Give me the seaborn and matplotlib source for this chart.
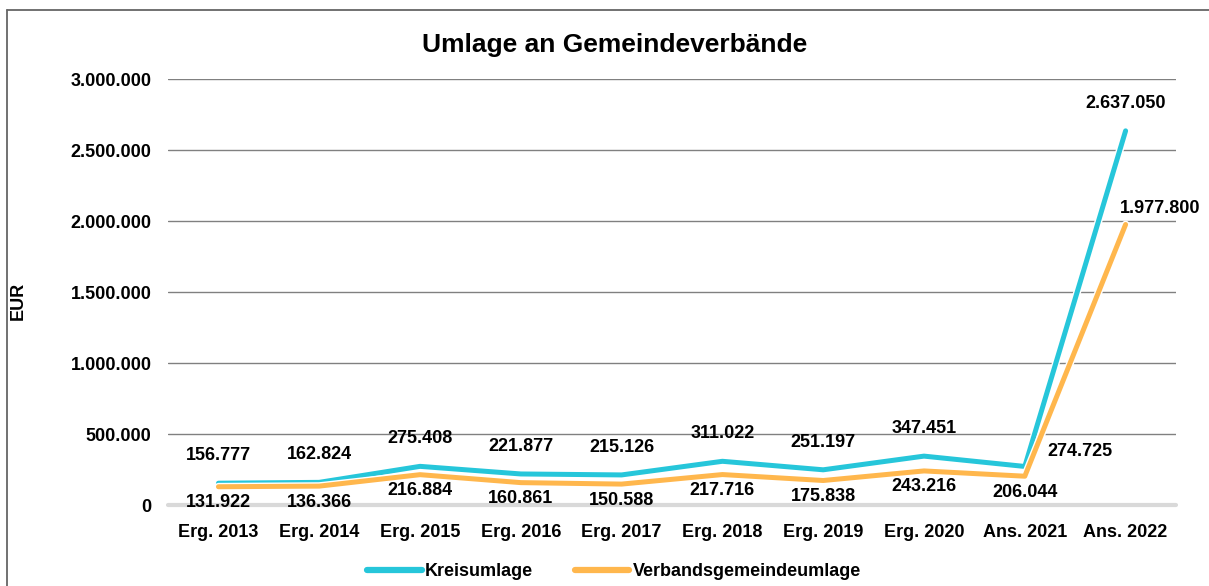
import pandas as pd
import matplotlib.pyplot as plt
import matplotlib.patheffects as pe
from matplotlib.lines import Line2D
from matplotlib.ticker import FuncFormatter
import seaborn as sns

# Data
jahre = ["Erg. 2013", "Erg. 2014", "Erg. 2015", "Erg. 2016", "Erg. 2017",
         "Erg. 2018", "Erg. 2019", "Erg. 2020", "Ans. 2021", "Ans. 2022"]
kreisumlage = [156777, 162824, 275408, 221877, 215126,
               311022, 251197, 347451, 274725, 2637050]
verbandsumlage = [131922, 136366, 216884, 160861, 150588,
                  217716, 175838, 243216, 206044, 1977800]

df = pd.DataFrame({"Jahr": jahre, "Kreisumlage": kreisumlage,
                   "Verbandsgemeindeumlage": verbandsumlage})
long = df.melt(id_vars="Jahr", var_name="Art", value_name="EUR")

sns.set_style("white")
plt.rcParams['font.family'] = ['Liberation Sans', 'DejaVu Sans']
plt.rcParams['font.weight'] = 'bold'
plt.rcParams['text.color'] = 'black'
plt.rcParams['axes.labelcolor'] = 'black'
plt.rcParams['xtick.color'] = 'black'
plt.rcParams['ytick.color'] = 'black'

farben = {"Kreisumlage": "#26C6DA", "Verbandsgemeindeumlage": "#FFB74D"}

fig = plt.figure(figsize=(12.09, 5.86), dpi=100)
ax = fig.add_axes([0.139, 0.1374, 0.8337, 0.7273])

sns.lineplot(data=long, x="Jahr", y="EUR", hue="Art", palette=farben,
             linewidth=3.6, ax=ax, legend=False, sort=False)
for line in ax.lines:
    line.set_path_effects([pe.Stroke(linewidth=5.6, foreground="white"), pe.Normal()])
    line.set_solid_capstyle("round")
    line.set_zorder(3)

def de_fmt(v, pos=None):
    return f"{v:,.0f}".replace(",", ".")

ax.set_ylim(0, 3000000)
ax.set_xlim(-0.5, len(jahre) - 0.5)
ax.set_yticks(range(0, 3000001, 500000))
ax.yaxis.set_major_formatter(FuncFormatter(de_fmt))
ax.tick_params(axis="both", length=0, labelsize=13, colors="black")
ax.tick_params(axis="y", pad=12)
ax.tick_params(axis="x", pad=13)
for t in ax.get_xticklabels() + ax.get_yticklabels():
    t.set_fontweight("bold")

ax.grid(axis="y", color="#808080", linewidth=1.0)
ax.grid(axis="x", visible=False)
ax.axhline(0, color="#d9d9d9", linewidth=3, zorder=2.5, clip_on=False)
sns.despine(ax=ax, left=True, bottom=True)

ax.set_xlabel("")
ax.set_ylabel("EUR", fontsize=13, fontweight="bold", color="black")
ax.yaxis.set_label_coords(-0.14, 0.48)

fig.text(0.508, 0.923, "Umlage an Gemeindeverbände", ha="center", va="center",
         fontsize=19, fontweight="bold", color="black")

# data labels (offsets in points)
off_k = [(0, 20)] * 8 + [(40, 11), (0, 20)]
off_v = [(0, -11.5)] * 9 + [(25, 11.5)]
for i, j in enumerate(jahre):
    ax.annotate(de_fmt(kreisumlage[i]), (i, kreisumlage[i]), xytext=off_k[i],
                textcoords="offset points", ha="center", va="center",
                fontsize=13, fontweight="bold", color="black")
    ax.annotate(de_fmt(verbandsumlage[i]), (i, verbandsumlage[i]), xytext=off_v[i],
                textcoords="offset points", ha="center", va="center",
                fontsize=13, fontweight="bold", color="black")

handles = [Line2D([], [], color=farben[k], linewidth=4.5, solid_capstyle="round")
           for k in farben]
fig.legend(handles, list(farben), loc="center", bbox_to_anchor=(0.508, 0.024),
           ncol=2, frameon=False, fontsize=13, handlelength=3.0,
           handletextpad=0.2, columnspacing=2.3)

# outer frame (cut off on right/bottom)
fig.add_artist(Line2D([0.0058, 1.0], [0.983, 0.983], color="#666666", linewidth=1.3))
fig.add_artist(Line2D([0.0058, 0.0058], [0.0, 0.983], color="#666666", linewidth=1.3))

fig.savefig("out.png", dpi=100)
